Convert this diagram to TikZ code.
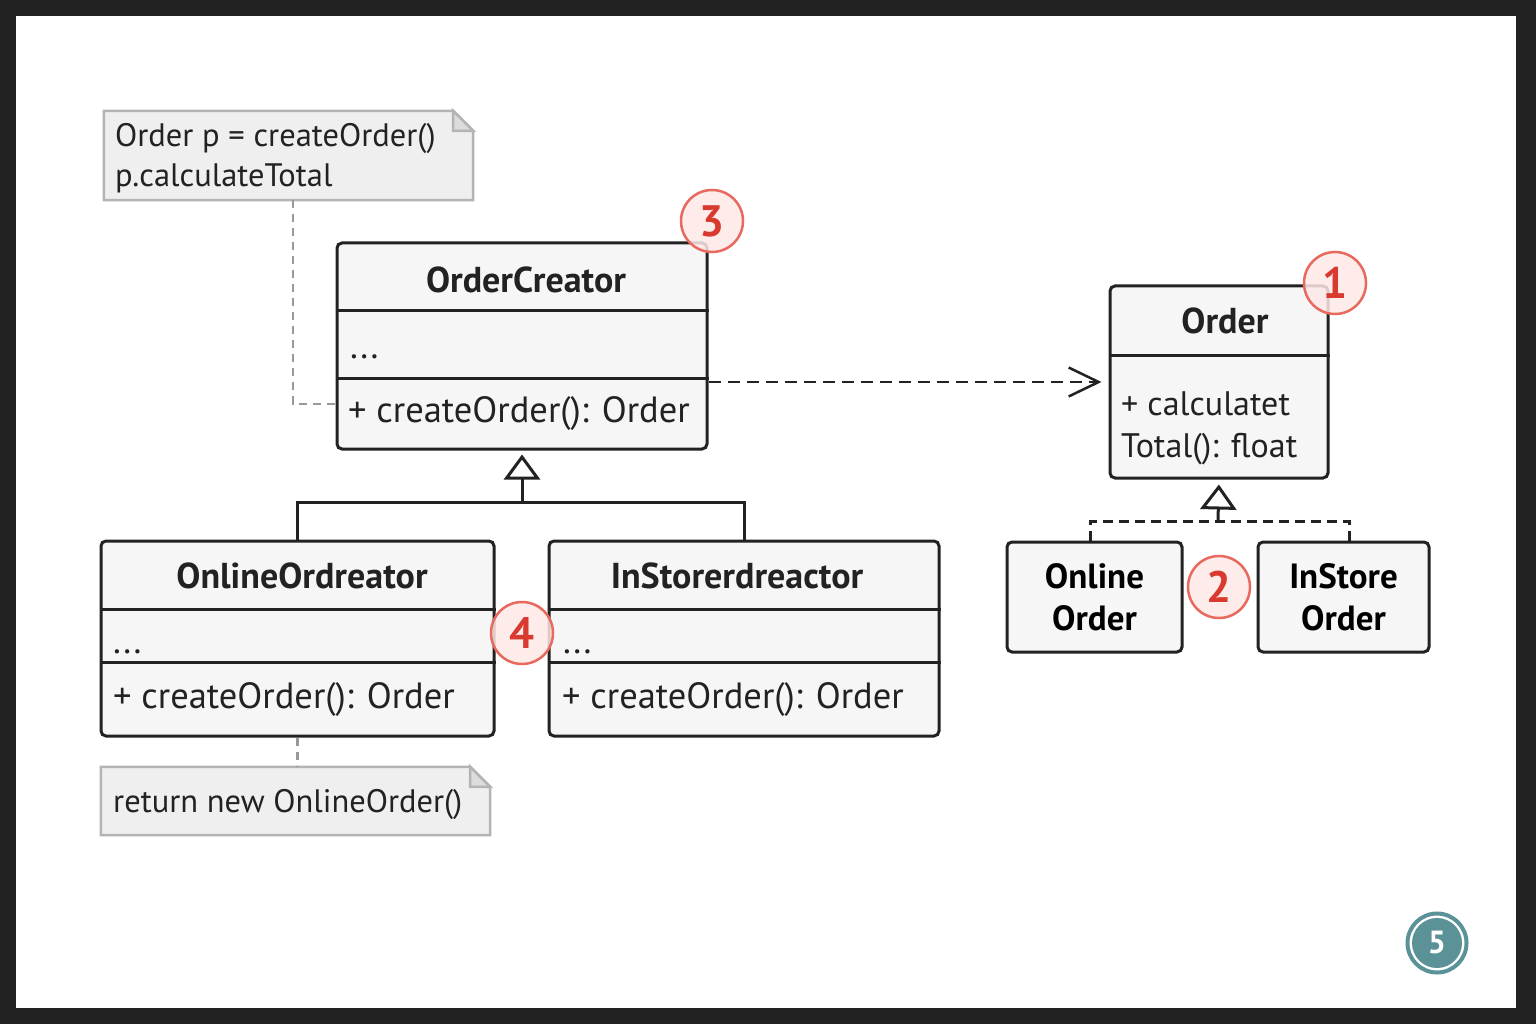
\documentclass[tikz,border=0pt]{standalone}
\usepackage{fontspec}
\setmainfont{PT Sans}
\usetikzlibrary{arrows.meta}

\definecolor{framecol}{HTML}{222222}
\definecolor{boxfill}{HTML}{F6F6F6}
\definecolor{boxline}{HTML}{222222}
\definecolor{notefill}{HTML}{EFEFEF}
\definecolor{notefold}{HTML}{DCDCDC}
\definecolor{noteline}{HTML}{B4B4B4}
\definecolor{badgefill}{HTML}{FDE9E7}
\definecolor{badgeline}{HTML}{E8695E}
\definecolor{badgetext}{HTML}{D93A30}
\definecolor{tealmark}{HTML}{5B9298}

\tikzset{
  classbox/.style={draw=boxline, fill=boxfill, line width=3pt, rounded corners=5pt, inner sep=0pt},
  divider/.style={draw=boxline, line width=3pt},
  classtitle/.style={font=\fontsize{36}{42}\selectfont\bfseries, text=boxline, anchor=base, inner sep=0pt},
  member/.style={font=\fontsize{36.5}{42}\selectfont, text=boxline, anchor=base west, inner sep=0pt},
  smallmember/.style={member, font=\fontsize{34}{42}\selectfont},
  notetext/.style={member, font=\fontsize{32.5}{40}\selectfont},
  notebox/.style={inner sep=0pt},
  noteshape/.style={draw=noteline, fill=notefill, line width=2.5pt},
  notelink/.style={draw=noteline!85!black, line width=2.5pt, dash pattern=on 8pt off 6pt},
  depline/.style={draw=boxline, line width=2.5pt, dash pattern=on 12pt off 7pt, shorten >=7pt,
    -{Straight Barb[length=30pt, width=29pt]}},
  genline/.style={draw=boxline, line width=3pt},
  gentip/.style={-{Triangle[fill=white, length=25pt, width=36pt]}},
  realline/.style={draw=boxline, line width=3pt, dash pattern=on 10pt off 6pt},
  badge/.style={circle, draw=badgeline, fill=badgefill, fill opacity=0.85, text opacity=1,
    line width=2.5pt, minimum size=62pt, inner sep=0pt, text=badgetext,
    font=\fontsize{44}{44}\selectfont\bfseries},
  tealbadge/.style={circle, fill=tealmark, minimum size=50pt, inner sep=0pt, text=white,
    font=\fontsize{32}{32}\selectfont\bfseries},
}

\begin{document}
\begin{tikzpicture}[x=1pt, y=-1pt]
  \useasboundingbox (0,0) rectangle (1536,1024);
  \fill[framecol] (0,0) rectangle (1536,1024);
  \fill[white] (16,16) rectangle (1516,1008);

  \node[notebox, minimum width=369pt, minimum height=89pt] (clientnote) at (288.5,155.5) {};
  \filldraw[noteshape] (clientnote.south west) -- (clientnote.north west)
    -- ([xshift=-20pt]clientnote.north east) -- ([yshift=-20pt]clientnote.north east)
    -- (clientnote.south east) -- cycle;
  \filldraw[noteshape, fill=notefold] ([xshift=-20pt]clientnote.north east)
    |- ([yshift=-20pt]clientnote.north east) -- cycle;
  \node[notetext] (clientline1) at (115,147) {Order p = createOrder()};
  \node[notetext] (clientline2) at (115,187) {p.calculateTotal};

  \node[notebox, minimum width=389pt, minimum height=68pt] (factorynote) at (295.5,801) {};
  \filldraw[noteshape] (factorynote.south west) -- (factorynote.north west)
    -- ([xshift=-20pt]factorynote.north east) -- ([yshift=-20pt]factorynote.north east)
    -- (factorynote.south east) -- cycle;
  \filldraw[noteshape, fill=notefold] ([xshift=-20pt]factorynote.north east)
    |- ([yshift=-20pt]factorynote.north east) -- cycle;
  \node[notetext] (factoryline) at (113,812) {return new OnlineOrder()};

  \node[classbox, minimum width=370pt, minimum height=206pt] (creator) at (522,346) {};
  \draw[divider] ([yshift=-69pt]creator.north west) -- ([yshift=-69pt]creator.north east);
  \draw[divider] ([yshift=-137pt]creator.north west) -- ([yshift=-137pt]creator.north east);
  \node[classtitle] (creatortitle) at (526,292) {OrderCreator};
  \node[member] (creatorfields) at (350,358) {...};
  \node[member] (creatormethod) at (348,422) {+ createOrder(): Order};

  \node[classbox, minimum width=393pt, minimum height=195pt] (onlinecreator) at (297.5,638.5) {};
  \draw[divider] ([yshift=-70pt]onlinecreator.north west) -- ([yshift=-70pt]onlinecreator.north east);
  \draw[divider] ([yshift=-123pt]onlinecreator.north west) -- ([yshift=-123pt]onlinecreator.north east);
  \node[classtitle] (onlinetitle) at (302,588) {OnlineOrdreator};
  \node[member] (onlinefields) at (113,653) {...};
  \node[member] (onlinemethod) at (113,708) {+ createOrder(): Order};

  \node[classbox, minimum width=390pt, minimum height=195pt] (storecreator) at (744,638.5) {};
  \draw[divider] ([yshift=-70pt]storecreator.north west) -- ([yshift=-70pt]storecreator.north east);
  \draw[divider] ([yshift=-123pt]storecreator.north west) -- ([yshift=-123pt]storecreator.north east);
  \node[classtitle] (storetitle) at (737,588) {InStorerdreactor};
  \node[member] (storefields) at (563,653) {...};
  \node[member] (storemethod) at (562,708) {+ createOrder(): Order};

  \node[classbox, minimum width=218pt, minimum height=192pt] (order) at (1219,382) {};
  \draw[divider] ([yshift=-71pt]order.north west) -- ([yshift=-71pt]order.north east);
  \node[classtitle] (ordertitle) at (1225,333) {Order};
  \node[smallmember] (ordermethod1) at (1121,415) {+ calculatet};
  \node[smallmember] (ordermethod2) at (1121,457) {Total(): float};

  \node[classbox, minimum width=175pt, minimum height=110pt, align=center,
    font=\fontsize{35}{42}\selectfont\bfseries] (onlineorder) at (1094.5,597) {Online\\Order};
  \node[classbox, minimum width=171pt, minimum height=110pt, align=center,
    font=\fontsize{35}{42}\selectfont\bfseries] (storeorder) at (1343.5,597) {InStore\\Order};

  \draw[notelink] ([xshift=4.5pt]clientnote.south) |- ([yshift=-58pt]creator.west);
  \draw[notelink] (onlinecreator.south) -- (onlinecreator.south |- factorynote.north);

  \coordinate (creatorjoin) at (522,502);
  \coordinate (orderjoin) at (1218,521);
  \draw[genline] (onlinecreator.north) |- (creatorjoin) -| (storecreator.north);
  \draw[genline, gentip, shorten >=4pt] (creatorjoin) -- (creator.south);
  \draw[realline] ([xshift=-4.5pt]onlineorder.north) |- (orderjoin) -| ([xshift=5.5pt]storeorder.north);
  \draw[genline, gentip, shorten >=5pt] (orderjoin) -- (order.south);
  \draw[depline] ([yshift=-36pt]creator.east) -- (order.west);

  \node[badge] (b1) at (1335,283) {1};
  \node[badge] (b2) at (1219,587) {2};
  \node[badge] (b3) at (712,221) {3};
  \node[badge] (b4) at (522,633) {4};
  \node[tealbadge] (b5) at (1437,943) {5};
  \draw[tealmark, line width=4pt] (b5.center) circle[radius=29.5pt];
\end{tikzpicture}
\end{document}
